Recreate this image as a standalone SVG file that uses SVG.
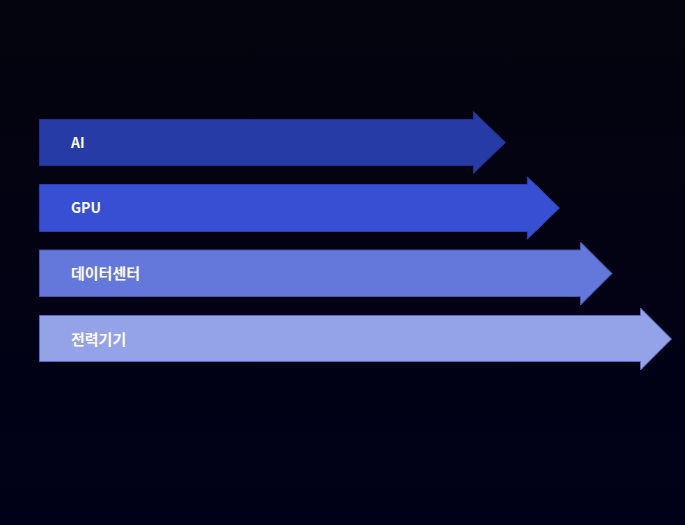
<svg xmlns="http://www.w3.org/2000/svg" width="685" height="525" viewBox="0 0 685 525">
  <defs>
    <linearGradient id="bg" x1="0" y1="0" x2="0" y2="1">
      <stop offset="0" stop-color="#04040e"/>
      <stop offset="1" stop-color="#000018"/>
    </linearGradient>
  </defs>
  <style>
    .arrow { stroke-width: 1; stroke-linejoin: miter; }
    .label { font-family: "Noto Sans CJK KR", "Noto Sans", sans-serif; font-size: 14px; font-weight: 700; fill: #ffffff; dominant-baseline: central; }
    .ko { font-size: 15px; }
  </style>
  <rect x="0" y="0" width="685" height="525" fill="url(#bg)"/>
  <g id="connectors"></g>
  <g id="node-ai">
    <polygon class="arrow" fill="#263ba5" stroke="#1e2f86" points="39.5,119.5 473.5,119.5 473.5,111.5 505.5,142.5 473.5,173.5 473.5,165.5 39.5,165.5"/>
    <text class="label" x="71" y="141.5">AI</text>
  </g>
  <g id="node-gpu">
    <polygon class="arrow" fill="#3750d3" stroke="#2c41a8" points="39.5,184.5 527.5,184.5 527.5,177 559.5,208 527.5,239 527.5,231.5 39.5,231.5"/>
    <text class="label" x="71" y="207">GPU</text>
  </g>
  <g id="node-datacenter">
    <polygon class="arrow" fill="#6478dc" stroke="#4656b0" points="39.5,250 580.5,250 580.5,242 612,273.5 580.5,305 580.5,296.5 39.5,296.5"/>
    <text class="label ko" x="71" y="272.5">데이터센터</text>
  </g>
  <g id="node-power">
    <polygon class="arrow" fill="#94a2e8" stroke="#5a66c0" points="39.5,315.5 640.5,315.5 640.5,308 671.5,339 640.5,370 640.5,361.5 39.5,361.5"/>
    <text class="label ko" x="71" y="338">전력기기</text>
  </g>
</svg>
